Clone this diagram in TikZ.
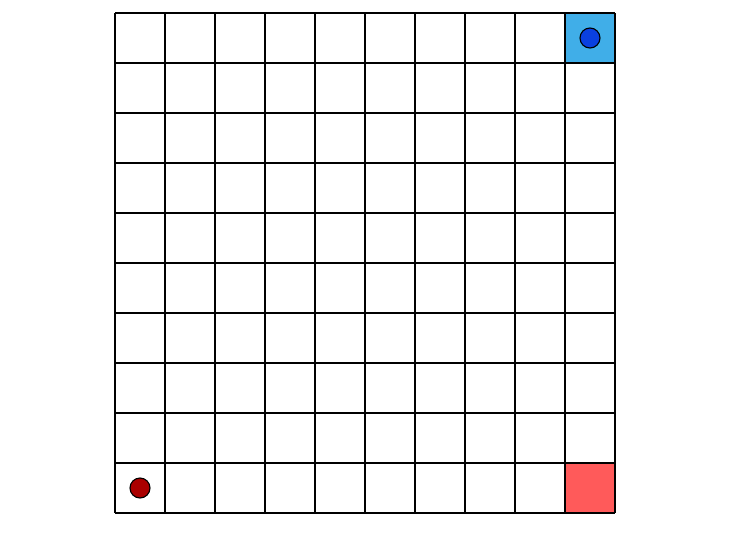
\documentclass[tikz,border=0pt]{standalone}
\definecolor{goalblue}{RGB}{64,174,232}
\definecolor{agentblue}{RGB}{10,64,224}
\definecolor{hazred}{RGB}{255,90,90}
\definecolor{agentred}{RGB}{170,0,0}
\tikzset{
  gridline/.style={line width=1.5pt, black},
  token/.style={circle, draw=black, line width=1.1pt, minimum size=20pt, inner sep=0pt}
}
\begin{document}
\begin{tikzpicture}[x=1pt,y=-1pt]
\useasboundingbox (0,0) rectangle (740,547);
\fill[goalblue] (565,13) rectangle (615,63);
\fill[hazred] (565,463) rectangle (615,513);
\foreach \i in {0,...,10}{
  \draw[gridline] (115+50*\i,13) -- (115+50*\i,513);
  \draw[gridline] (115,13+50*\i) -- (615,13+50*\i);
}
\node[token, fill=agentblue] (blue) at (590,38) {};
\node[token, fill=agentred] (red) at (140,488) {};
\end{tikzpicture}
\end{document}
